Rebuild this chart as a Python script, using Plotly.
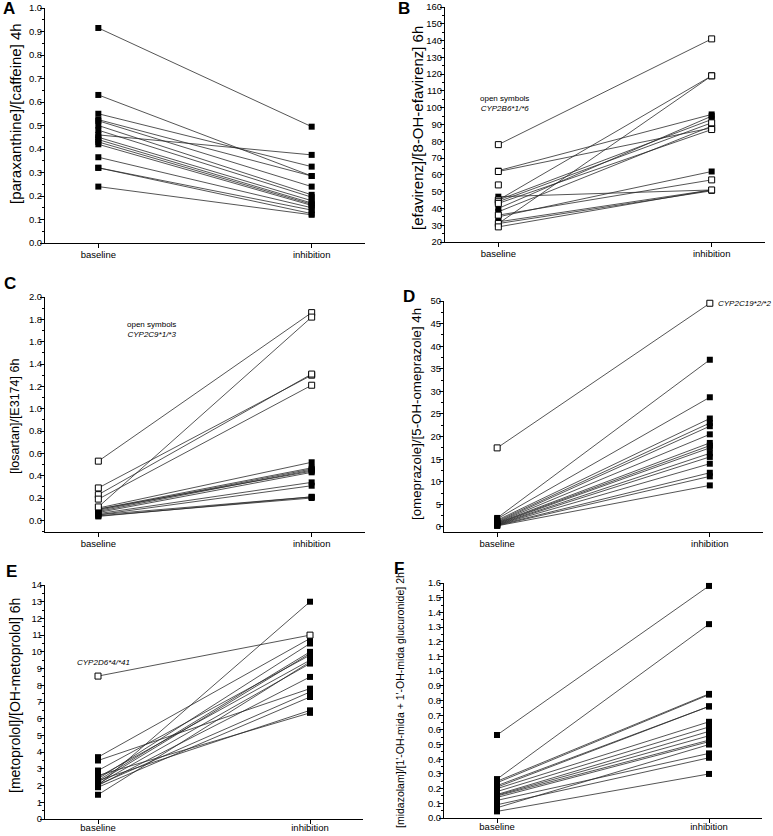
import plotly.graph_objects as go

W, H = 773, 836
FONT = "Liberation Sans, Arial, sans-serif"


def px_x(v):
    return v / W


def px_y(v):
    return 1 - v / H


def clamp(v):
    return min(1.0, max(0.0, v))


categories = ["baseline", "inhibition"]

# Panel A: paraxanthine/caffeine
a_base = [0.915, 0.63, 0.55, 0.525, 0.52, 0.50, 0.48, 0.46, 0.45, 0.44, 0.43, 0.42, 0.365, 0.32, 0.32, 0.24]
a_inh = [0.495, 0.285, 0.325, 0.285, 0.24, 0.205, 0.195, 0.375, 0.18, 0.17, 0.165, 0.16, 0.15, 0.14, 0.125, 0.12]
a_open = [0] * 16

# Panel B: efavirenz/8-OH-efavirenz
b_base = [78, 31, 45, 62.5, 62, 45, 44, 43, 40, 38, 47, 35, 36, 32, 31, 29, 54]
b_inh = [141, 119, 119, 96, 88, 93, 91, 87, 95, 89, 51, 62, 57, 51, 50.5, 51, None]
b_open = [1, 1, 1, 0, 1, 0, 1, 1, 0, 0, 0, 0, 1, 0, 0, 1, 1]

# Panel C: losartan/E3174
c_base = [0.53, 0.12, 0.29, 0.23, 0.19, 0.11, 0.10, 0.10, 0.09, 0.08, 0.07, 0.06, 0.05, 0.05, 0.04, 0.035]
c_inh = [1.86, 1.82, 1.30, 1.31, 1.21, 0.52, 0.47, 0.44, 0.46, 0.45, 0.43, 0.34, 0.31, 0.21, 0.20, 0.21]
c_open = [1, 1, 1, 1, 1, 0, 0, 0, 0, 0, 0, 0, 0, 0, 0, 0]

# Panel D: omeprazole/5-OH-omeprazole
d_base = [17.5, 2.0, 1.8, 1.5, 1.3, 1.1, 1.0, 0.9, 0.8, 0.7, 0.6, 0.5, 0.45, 0.4, 0.3, 0.25]
d_inh = [49.5, 37.0, 28.7, 24.0, 23.0, 22.3, 20.5, 18.6, 18.0, 17.5, 16.3, 15.5, 14.0, 12.0, 11.2, 9.2]
d_open = [1] + [0] * 15

# Panel E: metoprolol/OH-metoprolol
e_base = [8.55, 3.7, 3.5, 2.9, 2.5, 2.4, 2.3, 2.2, 2.1, 2.05, 2.0, 2.0, 1.9, 2.6, 1.45, 2.3]
e_inh = [11.0, 10.8, 7.8, 9.8, 9.5, 10.5, 6.5, 9.9, 9.3, 7.6, 13.0, 8.5, 7.3, 6.35, 9.4, 10.0]
e_open = [1] + [0] * 15

# Panel F: midazolam/(1'-OH-mida + glucuronide)
f_base = [0.565, 0.265, 0.25, 0.24, 0.22, 0.21, 0.20, 0.18, 0.16, 0.155, 0.15, 0.14, 0.12, 0.09, 0.07, 0.045]
f_inh = [1.58, 1.32, 0.845, 0.84, 0.76, 0.76, 0.655, 0.62, 0.59, 0.56, 0.53, 0.52, 0.44, 0.41, 0.50, 0.30]
f_open = [0] * 16

panels = [
    dict(letter="A", base=a_base, inh=a_inh, open=a_open,
         title="[paraxanthine]/[caffeine] 4h", tsize=15, tx=16, ty=114,
         xpx=(45, 365), ypx=(8, 243), yr=[0, 1.0], dtick=0.1, minor=0.05, fmt=".1f",
         lx=9, ly=9, xstand=-1),
    dict(letter="B", base=b_base, inh=b_inh, open=b_open,
         title="[efavirenz]/[8-OH-efavirenz] 6h", tsize=15, tx=417, ty=128,
         xpx=(445, 765), ypx=(7, 242), yr=[20, 160], dtick=10, minor=5, fmt="d",
         lx=404, ly=9, xstand=-1),
    dict(letter="C", base=c_base, inh=c_inh, open=c_open,
         title="[losartan]/[E3174] 6h", tsize=12.5, tx=15, ty=417,
         xpx=(45, 365), ypx=(297, 531.5), yr=[-0.1, 2.0], dtick=0.2, minor=0.1, fmt=".1f",
         lx=10, ly=283, xstand=-1),
    dict(letter="D", base=d_base, inh=d_inh, open=d_open,
         title="[omeprazole]/[5-OH-omeprazole] 4h", tsize=13.3, tx=416, ty=414,
         xpx=(444, 763), ypx=(301, 531.5), yr=[-1, 50], dtick=5, minor=2.5, fmt="d",
         lx=409, ly=296, xstand=-1),
    dict(letter="E", base=e_base, inh=e_inh, open=e_open,
         title="[metoprolol]/[OH-metoprolol] 6h", tsize=14, tx=15, ty=696,
         xpx=(45, 363), ypx=(585, 819), yr=[0, 14], dtick=1, minor=0.5, fmt="d",
         lx=11, ly=571, xstand=-4),
    dict(letter="F", base=f_base, inh=f_inh, open=f_open,
         title="[midazolam]/[1'-OH-mida + 1'-OH-mida glucuronide] 2h", tsize=10.5, tx=400, ty=700,
         xpx=(444, 762), ypx=(583, 818), yr=[0, 1.6], dtick=0.1, minor=0.05, fmt=".1f",
         lx=399, ly=568, xstand=-4),
]

fig = go.Figure()
annotations = []
layout_axes = {}

for k, p in enumerate(panels):
    n = k + 1
    xa = "x" if n == 1 else f"x{n}"
    ya = "y" if n == 1 else f"y{n}"
    # connecting lines
    lx, ly = [], []
    for b, i in zip(p["base"], p["inh"]):
        if b is None or i is None:
            continue
        lx += [0, 1, None]
        ly += [b, i, None]
    fig.add_trace(go.Scatter(x=lx, y=ly, mode="lines", xaxis=xa, yaxis=ya,
                             line=dict(color="#2a2a2a", width=0.8),
                             hoverinfo="skip", showlegend=False, cliponaxis=False))
    # markers: filled then open
    for is_open in (0, 1):
        mx, my = [], []
        for b, i, o in zip(p["base"], p["inh"], p["open"]):
            if o != is_open:
                continue
            if b is not None:
                mx.append(0); my.append(b)
            if i is not None:
                mx.append(1); my.append(i)
        if not mx:
            continue
        fig.add_trace(go.Scatter(
            x=mx, y=my, mode="markers", xaxis=xa, yaxis=ya, showlegend=False,
            cliponaxis=False,
            marker=dict(symbol="square", size=6,
                        color="white" if is_open else "black",
                        line=dict(color="black", width=1 if is_open else 0))))

    x0, x1 = p["xpx"]
    yt, yb = p["ypx"]
    axis_common = dict(showline=True, linecolor="black", linewidth=1, ticks="outside",
                       tickcolor="black", ticklen=4, tickwidth=1, showgrid=False,
                       zeroline=False, automargin=False,
                       tickfont=dict(family=FONT, size=9.5, color="black"))
    layout_axes["xaxis" if n == 1 else f"xaxis{n}"] = dict(
        axis_common, domain=[clamp(px_x(x0)), clamp(px_x(x1))], anchor=ya, range=[-0.25, 1.25],
        tickvals=[0, 1], ticktext=categories, ticklabelstandoff=p["xstand"])
    layout_axes["yaxis" if n == 1 else f"yaxis{n}"] = dict(
        axis_common, domain=[clamp(px_y(yb)), clamp(px_y(yt))], anchor=xa, range=p["yr"],
        tick0=0, dtick=p["dtick"], tickformat=p["fmt"], ticklabelstandoff=-4,
        minor=dict(ticks="outside", ticklen=2, tickcolor="black", dtick=p["minor"], tick0=0))

    annotations.append(dict(text=p["title"], x=px_x(p["tx"]), y=px_y(p["ty"]),
                            xref="paper", yref="paper", textangle=-90, showarrow=False,
                            xanchor="center", yanchor="middle",
                            font=dict(family=FONT, size=p["tsize"], color="black")))
    annotations.append(dict(text="<b>" + p["letter"] + "</b>", x=px_x(p["lx"]), y=px_y(p["ly"]),
                            xref="paper", yref="paper", showarrow=False,
                            xanchor="center", yanchor="middle",
                            font=dict(family=FONT, size=17, color="black")))

notes = [
    ("open symbols<br><i>CYP2B6*1/*6</i>", 504, 104, "center"),
    ("open symbols<br><i>CYP2C9*1/*3</i>", 151, 329, "center"),
    ("<i>CYP2C19*2/*2</i>", 773, 303, "right"),
    ("<i>CYP2D6*4/*41</i>", 104, 662, "center"),
]
for txt, x, y, anc in notes:
    annotations.append(dict(text=txt, x=px_x(x), y=px_y(y), xref="paper", yref="paper",
                            showarrow=False, xanchor=anc, yanchor="middle", align="center",
                            font=dict(family=FONT, size=8, color="black")))

fig.update_layout(
    width=W, height=H, template="none",
    margin=dict(l=0, r=0, t=0, b=0),
    paper_bgcolor="white", plot_bgcolor="white",
    showlegend=False, annotations=annotations, **layout_axes)

# remove the browser's default 8px body margin so the figure sits at the window origin
fig.write_html("out.html", config={"displayModeBar": False},
               post_script="document.body.style.margin='0';")
